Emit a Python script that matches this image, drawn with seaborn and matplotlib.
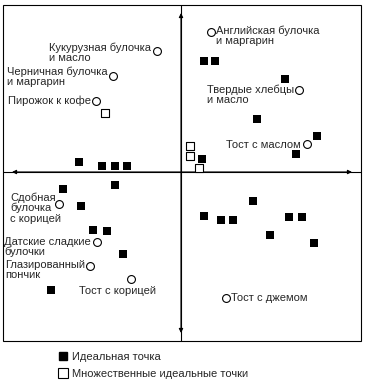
import matplotlib
matplotlib.use("Agg")
import matplotlib.pyplot as plt
from matplotlib.lines import Line2D
from matplotlib.patches import Rectangle
import seaborn as sns

# одиночные идеальные точки
ideal_x = [-1.02, -0.79, -0.66, -0.54, 0.23, 0.34, 1.04, 0.76, 1.36, 1.15, 0.21,
           -1.18, -0.66, -1.00, -0.88, -0.74, -0.58, -1.30,
           0.72, 0.23, 0.40, 0.52, 1.08, 1.21, 0.89, 1.33]
ideal_y = [0.10, 0.06, 0.06, 0.06, 1.11, 1.11, 0.93, 0.53, 0.36, 0.18, 0.13,
           -0.17, -0.13, -0.34, -0.58, -0.59, -0.82, -1.18,
           -0.29, -0.44, -0.48, -0.48, -0.45, -0.45, -0.63, -0.71]

# множественные идеальные точки
multi_x = [-0.76, 0.09, 0.09, 0.18]
multi_y = [0.59, 0.26, 0.16, 0.04]

# продукты
products = ["Кукурузная булочка\nи масло", "Черничная булочка\nи маргарин",
            "Пирожок к кофе", "Английская булочка\nи маргарин",
            "Твердые хлебцы\nи масло", "Тост с маслом",
            "Сдобная\nбулочка\nс корицей", "Датские сладкие\nбулочки",
            "Глазированный\nпончик", "Тост с корицей", "Тост с джемом"]
prod_x = [-0.24, -0.68, -0.85, 0.30, 1.18, 1.26, -1.22, -0.84, -0.91, -0.50, 0.45]
prod_y = [1.21, 0.96, 0.71, 1.40, 0.82, 0.28, -0.32, -0.70, -0.94, -1.07, -1.26]

legend_labels = ["Идеальная точка", "Множественные идеальные точки"]

# где ставить подпись относительно кружка (пиксели, ha)
label_pos = [(-6, -2, "right"), (-5, -1, "right"), (-5, 0, "right"),
             (5, -4, "left"), (-5, -5, "right"), (-6, -1, "right"),
             (-49, -4, "left"), (-6, -5, "right"), (-5, -4, "right"),
             (-14, -12, "center"), (5, 0, "left")]

sns.set_theme(style="white")
plt.rcParams["font.family"] = ["Liberation Sans", "DejaVu Sans"]
plt.rcParams["font.size"] = 8

fig = plt.figure(figsize=(3.72, 3.88), dpi=100)
ax = fig.add_axes([0, 0, 1, 1])
ax.set_xlim(-1.81, 1.91)
ax.set_ylim(-2.16, 1.72)
ax.axis("off")

lw = 0.8
# рамка и оси
ax.add_patch(Rectangle((-1.78, -1.69), 3.58, 3.36, fill=False, lw=lw, ec="black"))
ax.plot([0, 0], [-1.69, 1.67], color="black", lw=lw)
ax.plot([-1.78, 1.80], [0, 0], color="black", lw=lw)
arrow = dict(arrowstyle="<|-|>,head_length=0.3,head_width=0.15", color="black", lw=lw,
             shrinkA=0, shrinkB=0)
ax.annotate("", xy=(0, 1.59), xytext=(0, -1.61), arrowprops=arrow)
ax.annotate("", xy=(1.71, 0), xytext=(-1.69, 0), arrowprops=arrow)

sns.scatterplot(x=ideal_x, y=ideal_y, marker="s", s=33, color="black",
                linewidth=0, ax=ax, zorder=3)
sns.scatterplot(x=multi_x, y=multi_y, marker="s", s=40, color="white",
                edgecolor="black", linewidth=lw, ax=ax, zorder=3)
sns.scatterplot(x=prod_x, y=prod_y, marker="o", s=32, color="white",
                edgecolor="black", linewidth=lw, ax=ax, zorder=3)

for name, px, py, (dx, dy, ha) in zip(products, prod_x, prod_y, label_pos):
    ax.annotate(name, (px, py), xytext=(dx, dy), textcoords="offset pixels",
                ha=ha, va="center", multialignment="left", fontsize=8,
                linespacing=1.05)

handles = [Line2D([], [], marker="s", ls="", markersize=6, markerfacecolor="black",
                  markeredgecolor="black"),
           Line2D([], [], marker="s", ls="", markersize=6.5, markerfacecolor="white",
                  markeredgecolor="black", markeredgewidth=lw)]
ax.legend(handles, legend_labels, loc="upper left", bbox_to_anchor=(0.158, 0.093),
          bbox_transform=fig.transFigure, frameon=False, fontsize=8,
          handlelength=0.7, handletextpad=0.5, labelspacing=0.6, borderpad=0,
          borderaxespad=0)

fig.savefig("out.png", dpi=100)
